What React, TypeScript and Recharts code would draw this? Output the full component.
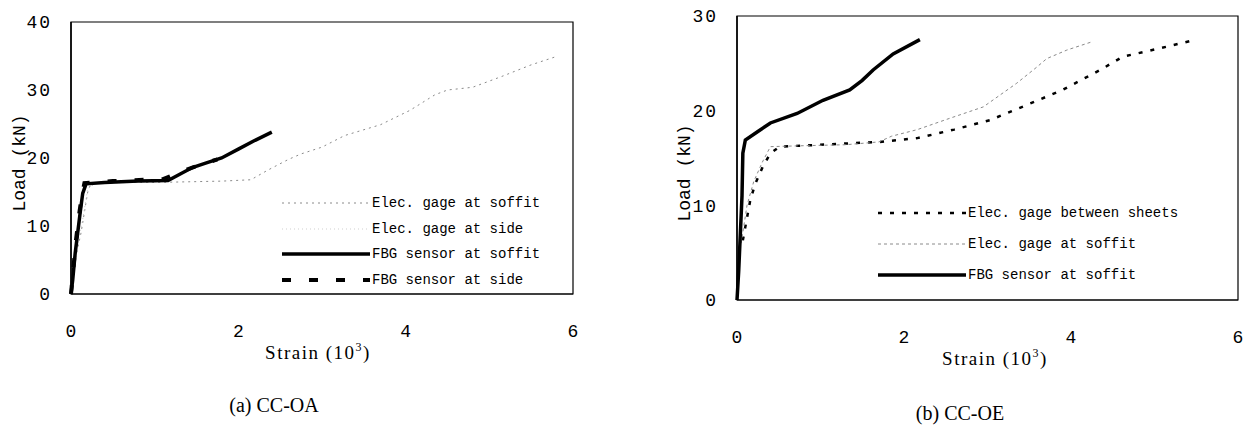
import React from 'react';
import { LineChart, Line, XAxis, YAxis, ReferenceArea, Legend } from 'recharts';

type Pt = { x: number; y: number };

const X_TICKS = [0, 2, 4, 6];
const Y_TICKS_A = [0, 10, 20, 30, 40];
const Y_TICKS_B = [0, 10, 20, 30];

// (a) CC-OA  -- strain (10^3) vs load (kN)
const elecSoffitA: Pt[] = [
  { x: 0, y: 0 }, { x: 0.05, y: 5 }, { x: 0.12, y: 9 }, { x: 0.16, y: 12 },
  { x: 0.2, y: 15 }, { x: 0.24, y: 16.3 }, { x: 0.6, y: 16.4 }, { x: 1.0, y: 16.4 },
  { x: 1.4, y: 16.5 }, { x: 1.8, y: 16.6 }, { x: 2.15, y: 16.8 }, { x: 2.35, y: 18.2 },
  { x: 2.6, y: 19.8 }, { x: 2.75, y: 20.6 }, { x: 3.0, y: 21.6 }, { x: 3.27, y: 23.3 },
  { x: 3.7, y: 24.9 }, { x: 4.05, y: 27 }, { x: 4.35, y: 29.3 }, { x: 4.5, y: 30 },
  { x: 4.8, y: 30.4 }, { x: 5.15, y: 32 }, { x: 5.5, y: 33.7 }, { x: 5.82, y: 35 },
];
const elecSideA: Pt[] = [
  { x: 0, y: 0 }, { x: 0.06, y: 6 }, { x: 0.14, y: 11 }, { x: 0.2, y: 15.5 },
  { x: 0.3, y: 16.3 }, { x: 1.1, y: 16.5 },
];
const fbgSoffitA: Pt[] = [
  { x: 0, y: 0 }, { x: 0.02, y: 2 }, { x: 0.05, y: 6 }, { x: 0.08, y: 9 },
  { x: 0.11, y: 12 }, { x: 0.14, y: 14.8 }, { x: 0.18, y: 16.2 }, { x: 0.4, y: 16.4 },
  { x: 0.8, y: 16.6 }, { x: 1.16, y: 16.7 }, { x: 1.3, y: 17.6 }, { x: 1.45, y: 18.6 },
  { x: 1.6, y: 19.2 }, { x: 1.8, y: 20.0 }, { x: 2.0, y: 21.3 }, { x: 2.2, y: 22.6 },
  { x: 2.4, y: 23.8 },
];
const fbgSideA: Pt[] = [
  { x: 0, y: 0 }, { x: 0.03, y: 4 }, { x: 0.06, y: 8 }, { x: 0.1, y: 12 },
  { x: 0.13, y: 14.5 }, { x: 0.16, y: 16.3 }, { x: 0.5, y: 16.6 }, { x: 1.1, y: 16.9 },
  { x: 1.2, y: 17.4 }, { x: 1.45, y: 18.6 }, { x: 1.75, y: 19.8 },
];

// (b) CC-OE
const elecBetweenB: Pt[] = [
  { x: 0.07, y: 6.3 }, { x: 0.16, y: 10.6 }, { x: 0.22, y: 12.3 }, { x: 0.31, y: 14.1 },
  { x: 0.4, y: 15.5 }, { x: 0.51, y: 16.2 }, { x: 1.0, y: 16.4 }, { x: 1.71, y: 16.7 },
  { x: 2.16, y: 17.1 }, { x: 2.6, y: 18 }, { x: 3.03, y: 19 }, { x: 3.47, y: 20.6 },
  { x: 3.9, y: 22.2 }, { x: 4.35, y: 24.3 }, { x: 4.62, y: 25.7 }, { x: 5.07, y: 26.6 },
  { x: 5.5, y: 27.5 },
];
const elecSoffitB: Pt[] = [
  { x: 0.05, y: 6 }, { x: 0.12, y: 10 }, { x: 0.2, y: 12.5 }, { x: 0.3, y: 14.5 },
  { x: 0.4, y: 16.2 }, { x: 0.8, y: 16.3 }, { x: 1.3, y: 16.4 }, { x: 1.7, y: 16.7 },
  { x: 1.85, y: 17.3 }, { x: 2.16, y: 18 }, { x: 2.55, y: 19.2 }, { x: 2.95, y: 20.4 },
  { x: 3.35, y: 22.9 }, { x: 3.59, y: 24.6 }, { x: 3.71, y: 25.5 }, { x: 3.95, y: 26.4 },
  { x: 4.26, y: 27.3 },
];
const fbgSoffitB: Pt[] = [
  { x: 0, y: 0 }, { x: 0.02, y: 3 }, { x: 0.04, y: 7 }, { x: 0.06, y: 11 },
  { x: 0.07, y: 15.5 }, { x: 0.1, y: 16.9 }, { x: 0.25, y: 17.8 }, { x: 0.4, y: 18.7 },
  { x: 0.72, y: 19.7 }, { x: 1.03, y: 21.1 }, { x: 1.35, y: 22.2 }, { x: 1.5, y: 23.2 },
  { x: 1.63, y: 24.3 }, { x: 1.87, y: 26 }, { x: 2.19, y: 27.5 },
];

const MONO = '"Liberation Mono", "DejaVu Sans Mono", monospace';
const SERIF = '"Liberation Serif", "DejaVu Serif", serif';

type Series = { name: string; data: Pt[]; stroke: string; width: number; dash?: string };

const seriesA: Series[] = [
  { name: 'Elec. gage at soffit', data: elecSoffitA, stroke: '#8a8a8a', width: 1, dash: '2 4' },
  { name: 'Elec. gage at side', data: elecSideA, stroke: '#cfcfcf', width: 1, dash: '1 3' },
  { name: 'FBG sensor at soffit', data: fbgSoffitA, stroke: '#000', width: 3.5 },
  { name: 'FBG sensor at side', data: fbgSideA, stroke: '#000', width: 4, dash: '9 18' },
];

const seriesB: Series[] = [
  { name: 'Elec. gage between sheets', data: elecBetweenB, stroke: '#000', width: 2.5, dash: '4 8' },
  { name: 'Elec. gage at soffit', data: elecSoffitB, stroke: '#8a8a8a', width: 1, dash: '3 3' },
  { name: 'FBG sensor at soffit', data: fbgSoffitB, stroke: '#000', width: 3.5 },
];

type PanelProps = {
  left: number;
  width: number;
  height: number;
  margin: { top: number; right: number; bottom: number; left: number };
  yMax: number;
  yTicks: number[];
  series: Series[];
  legend: { left: number; top: number; rowH: number };
};

function Panel({ left, width, height, margin, yMax, yTicks, series, legend }: PanelProps) {
  const renderLegend = () => (
    <div style={{ fontFamily: MONO, fontSize: 14, color: '#000' }}>
      {series.map((s) => (
        <div key={s.name} style={{ display: 'flex', alignItems: 'center', height: legend.rowH }}>
          <svg width={90} height={10} style={{ flex: 'none' }}>
            <line x1={0} x2={88} y1={5} y2={5} stroke={s.stroke} strokeWidth={s.width} strokeDasharray={s.dash} />
          </svg>
          <span style={{ whiteSpace: 'pre' }}>{s.name}</span>
        </div>
      ))}
    </div>
  );

  return (
    <div style={{ position: 'absolute', left, top: 0 }}>
      <LineChart width={width} height={height} margin={margin}>
        <XAxis
          dataKey="x"
          type="number"
          domain={[0, 6]}
          ticks={X_TICKS}
          height={50}
          tickLine={false}
          tickSize={0}
          tickMargin={30}
          axisLine={{ stroke: '#000', strokeWidth: 1.2 }}
          tick={{ fontFamily: MONO, fontSize: 18, fill: '#000' }}
        />
        <YAxis
          type="number"
          domain={[0, yMax]}
          ticks={yTicks}
          width={50}
          tickLine={false}
          tickSize={0}
          tickMargin={19}
          axisLine={{ stroke: '#000', strokeWidth: 1.5 }}
          tick={{ fontFamily: MONO, fontSize: 18, fill: '#000', letterSpacing: 2 }}
        />
        <ReferenceArea x1={0} x2={6} y1={0} y2={yMax} fill="none" stroke="#000" strokeWidth={1.2} ifOverflow="visible" />
        {series.map((s) => (
          <Line
            key={s.name}
            name={s.name}
            data={s.data}
            dataKey="y"
            type="linear"
            stroke={s.stroke}
            strokeWidth={s.width}
            strokeDasharray={s.dash}
            dot={false}
            isAnimationActive={false}
          />
        ))}
        <Legend
          layout="vertical"
          align="center"
          verticalAlign="middle"
          content={renderLegend}
          wrapperStyle={{ position: 'absolute', left: legend.left, top: legend.top, width: 330 }}
        />
      </LineChart>
    </div>
  );
}

const abs = (l: number, t: number): React.CSSProperties => ({
  position: 'absolute',
  left: l,
  top: t,
  transform: 'translate(-50%, -50%)',
  whiteSpace: 'nowrap',
});

export default function App() {
  return (
    <div style={{ position: 'absolute', left: 0, top: 0, width: 1250, height: 435, background: '#fff', overflow: 'hidden' }}>
      <Panel
        left={0}
        width={610}
        height={380}
        margin={{ top: 22, right: 37, bottom: 36, left: 21 }}
        yMax={40}
        yTicks={Y_TICKS_A}
        series={seriesA}
        legend={{ left: 282, top: 190, rowH: 25.7 }}
      />
      <Panel
        left={640}
        width={610}
        height={380}
        margin={{ top: 16, right: 12, bottom: 30, left: 47 }}
        yMax={30}
        yTicks={Y_TICKS_B}
        series={seriesB}
        legend={{ left: 238, top: 197, rowH: 31 }}
      />

      <div style={{ ...abs(20, 163), transform: 'translate(-50%, -50%) rotate(-90deg)', fontFamily: MONO, fontSize: 18 }}>
        Load (kN)
      </div>
      <div style={{ ...abs(685, 173), transform: 'translate(-50%, -50%) rotate(-90deg)', fontFamily: MONO, fontSize: 18 }}>
        Load (kN)
      </div>

      <div style={{ ...abs(318, 352), fontFamily: SERIF, fontSize: 19, letterSpacing: 1.5 }}>
        Strain (10<sup style={{ fontSize: 12 }}>3</sup>)
      </div>
      <div style={{ ...abs(995, 358), fontFamily: SERIF, fontSize: 19, letterSpacing: 1.5 }}>
        Strain (10<sup style={{ fontSize: 12 }}>3</sup>)
      </div>

      <div style={{ ...abs(274, 405), fontFamily: SERIF, fontSize: 20 }}>(a) CC-OA</div>
      <div style={{ ...abs(960, 413), fontFamily: SERIF, fontSize: 20 }}>(b) CC-OE</div>
    </div>
  );
}
